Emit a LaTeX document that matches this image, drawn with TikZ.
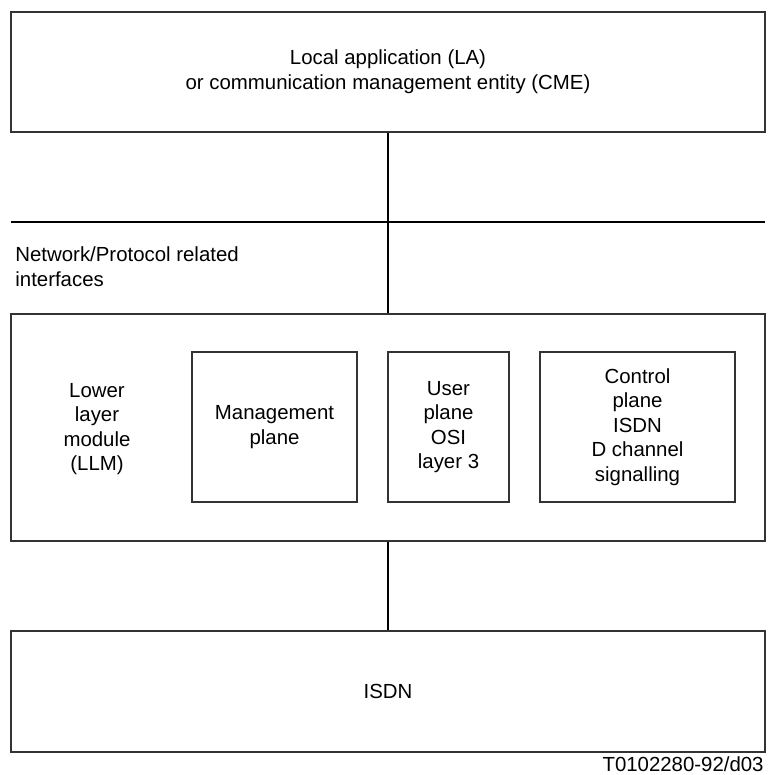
\documentclass[tikz,border=0pt]{standalone}
\usepackage{fontspec}
\setmainfont{Liberation Sans}

\begin{document}
\begin{tikzpicture}[x=0.5pt, y=-0.5pt,
    box/.style={draw=black!80, line width=0.6pt, rectangle, inner sep=0pt, align=center},
    txt/.style={inner sep=0pt, align=center},
    link/.style={line width=1pt}]

\useasboundingbox (0,0) rectangle (768,775);
\fontsize{10.2}{12.3}\selectfont

\node [box, minimum width=377pt, minimum height=60pt] (la) at (388,72) {Local application (LA)\\or communication management entity (CME)};

\coordinate (ifl) at (11,222);
\coordinate (ifr) at (765,222);
\draw [link] (ifl) -- (ifr);
\node [txt, align=left, anchor=west] (nw) at (15,267) {Network/Protocol related\\interfaces};

\node [box, minimum width=377pt, minimum height=113.5pt] (llm) at (388,427.5) {};
\node [txt] (llmtxt) at (97,429) {Lower\\layer\\module\\(LLM)};
\node [box, minimum width=82.5pt, minimum height=75pt] (mp) at (274.5,427) {Management\\plane};
\node [box, minimum width=60.5pt, minimum height=75pt] (up) at (448.5,427) {User\\plane\\OSI\\layer 3};
\node [box, minimum width=97.5pt, minimum height=75pt] (cp) at (637.5,427) {Control\\plane\\ISDN\\D channel\\signalling};

\node [box, minimum width=377pt, minimum height=60.5pt] (isdn) at (388,691.5) {ISDN};

\draw [link] (la.south) -- (llm.north);
\draw [link] (llm.south) -- (isdn.north);

\node [txt, anchor=base east] (ref) at (764,771) {T0102280-92/d03};

\end{tikzpicture}
\end{document}
